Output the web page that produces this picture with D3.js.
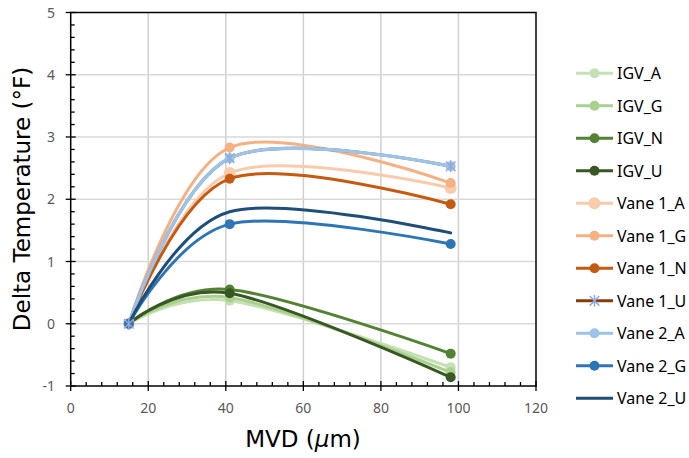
<!DOCTYPE html>
<html><head><meta charset="utf-8">
<script src="https://cdn.jsdelivr.net/npm/d3@7"></script>
<style>body{margin:0;background:#fff}svg{display:block}</style>
</head><body>
<svg id="chart" width="689" height="458"></svg>
<script>
const mvd = [15, 41, 98];
const seriesNames = ["IGV_A","IGV_G","IGV_N","IGV_U","Vane 1_A","Vane 1_G","Vane 1_N","Vane 1_U","Vane 2_A","Vane 2_G","Vane 2_U"];
const IGV_A  = [0, 0.37, -0.70];
const IGV_G  = [0, 0.42, -0.78];
const IGV_N  = [0, 0.55, -0.48];
const IGV_U  = [0, 0.49, -0.86];
const Vane1_A = [0, 2.42, 2.18];
const Vane1_G = [0, 2.83, 2.26];
const Vane1_N = [0, 2.33, 1.92];
const Vane1_U = [0, 2.66, 2.53];
const Vane2_A = [0, 2.66, 2.53];
const Vane2_G = [0, 1.60, 1.28];
const Vane2_U = [0, 1.80, 1.46];
const xTicks = [0, 20, 40, 60, 80, 100, 120];
const yTicks = [-1, 0, 1, 2, 3, 4, 5];

const values = [IGV_A, IGV_G, IGV_N, IGV_U, Vane1_A, Vane1_G, Vane1_N, Vane1_U, Vane2_A, Vane2_G, Vane2_U];
const colors = ["#c5e0b4","#a9d18e","#548235","#385723","#f8cbad","#f4b183","#c55a11","#843c0c","#9dc3e6","#2e75b6","#1f4e79"];
const markers = ["circle","circle","circle","circle","circle","circle","circle","star","circle","circle","none"];
const markerR = [5,5,5,5,6,5,5,6,5,5,0];
const starColor = "#8faadc";

const svg = d3.select("#chart");
const L = 70.7, R = 536, T = 12.5, B = 386;
const x = d3.scaleLinear().domain([0,120]).range([L,R]);
const y = d3.scaleLinear().domain([-1,5]).range([B,T]);

// gridlines
const g = svg.append("g");
g.selectAll(".vg").data(xTicks.filter(d=>d>0 && d<120)).join("line")
  .attr("x1",d=>x(d)).attr("x2",d=>x(d)).attr("y1",T).attr("y2",B)
  .attr("stroke","#d0d0d0").attr("stroke-width",1.5);
g.selectAll(".hg").data(yTicks.filter(d=>d>-1 && d<5)).join("line")
  .attr("x1",L).attr("x2",R).attr("y1",d=>y(d)).attr("y2",d=>y(d))
  .attr("stroke","#d9d9d9").attr("stroke-width",1.5);

// box
svg.append("rect").attr("x",L).attr("y",T).attr("width",R-L).attr("height",B-T)
  .attr("fill","none").attr("stroke","#000").attr("stroke-width",1.5);

// ticks
const ax = svg.append("g").attr("stroke","#000").attr("stroke-width",1.3);
d3.range(-1, 5.001, 0.2).forEach(v=>{
  const major = Math.abs(v-Math.round(v))<1e-6;
  ax.append("line").attr("x1", major? L-5 : L).attr("x2", major? L+5 : L+4)
    .attr("y1", y(v)).attr("y2", y(v));
});
d3.range(0, 120.001, 4).forEach(v=>{
  const major = Math.abs(v/20-Math.round(v/20))<1e-6;
  ax.append("line").attr("y1", major? B+5 : B).attr("y2", major? B-5 : B-4)
    .attr("x1", x(v)).attr("x2", x(v));
});

// tick labels
svg.selectAll(".yl").data(yTicks).join("text")
  .attr("x", 55).attr("y", d=>y(d)+5).attr("text-anchor","end")
  .attr("font-family","Noto Sans").attr("font-size",14).attr("fill","#595959").text(d=>d);
svg.selectAll(".xl").data(xTicks).join("text")
  .attr("x", d=>x(d)).attr("y", 413).attr("text-anchor","middle")
  .attr("font-family","Noto Sans").attr("font-size",14).attr("fill","#595959").text(d=>d);

// axis titles
svg.append("text").attr("transform","translate(30,199) rotate(-90)")
  .attr("text-anchor","middle").attr("font-family","DejaVu Sans").attr("font-size",23)
  .attr("fill","#000").text("Delta Temperature (°F)");
const xt = svg.append("text").attr("x",303).attr("y",447).attr("text-anchor","middle")
  .attr("font-family","DejaVu Sans").attr("font-size",23).attr("fill","#000");
xt.append("tspan").text("MVD (");
xt.append("tspan").attr("font-style","italic").text("μ");
xt.append("tspan").text("m)");

// series
const line = d3.line().x(d=>x(d[0])).y(d=>y(d[1])).curve(d3.curveCatmullRom.alpha(0));
const starPathX = s => `M0,${-s}L0,${s}M${-s*0.8},${-s*0.8}L${s*0.8},${s*0.8}M${-s*0.8},${s*0.8}L${s*0.8},${-s*0.8}`;

const plot = svg.append("g");
values.forEach((vals,i)=>{
  const pts = mvd.map((m,j)=>[m, vals[j]]);
  plot.append("path").attr("d", line(pts)).attr("fill","none")
    .attr("stroke", colors[i]).attr("stroke-width", i===8 ? 3.5 : 3).attr("stroke-linecap","round");
  if (markers[i]==="circle") {
    plot.selectAll(null).data(pts).join("circle")
      .attr("cx",d=>x(d[0])).attr("cy",d=>y(d[1])).attr("r",markerR[i]).attr("fill",colors[i]);
  }
});
// star markers on top
values.forEach((vals,i)=>{
  if (markers[i]!=="star") return;
  const pts = mvd.map((m,j)=>[m, vals[j]]);
  plot.selectAll(null).data(pts).join("path")
    .attr("transform",d=>`translate(${x(d[0])},${y(d[1])})`)
    .attr("d", starPathX(6)).attr("stroke", starColor).attr("stroke-width",1.5).attr("fill","none");
});

// legend
const lg = svg.append("g");
seriesNames.forEach((name,i)=>{
  const cy = 73.3 + i*32.5;
  lg.append("line").attr("x1",576).attr("x2",613).attr("y1",cy).attr("y2",cy)
    .attr("stroke",colors[i]).attr("stroke-width",3);
  if (markers[i]==="circle") {
    lg.append("circle").attr("cx",594.5).attr("cy",cy).attr("r",markerR[i]).attr("fill",colors[i]);
  } else if (markers[i]==="star") {
    lg.append("path").attr("transform",`translate(594.5,${cy})`).attr("d",starPathX(6))
      .attr("stroke",starColor).attr("stroke-width",1.5).attr("fill","none");
  }
  lg.append("text").attr("x",617).attr("y",cy+6).attr("font-family","Noto Sans")
    .attr("font-size",16).attr("fill","#000").text(name);
});
</script>
</body></html>
